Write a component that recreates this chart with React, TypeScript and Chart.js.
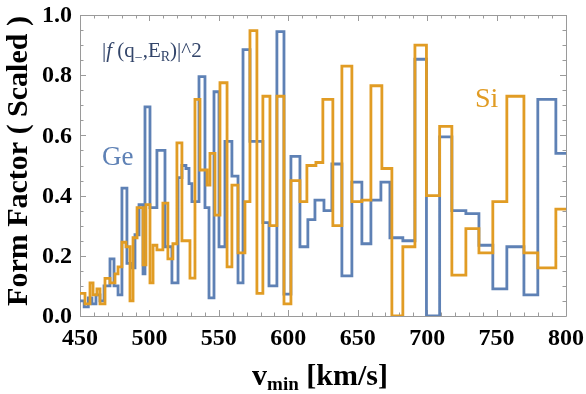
import React, { useEffect, useRef } from "react";
import { Chart, registerables } from "chart.js";

Chart.register(...registerables);

// Bin start velocities (km/s) and scaled form factor values
const geV = [450, 453, 456, 458.6, 461.5, 464.4, 467.3, 471.6, 474.5, 477.4, 480.2, 483.8, 486.7, 489.6, 492.5, 495.4, 496.8, 500.4, 505.4, 511.2, 516.2, 520.6, 523.4, 526.3, 528.5, 530.6, 535.7, 540, 542.9, 546.5, 550.1, 554.4, 559.4, 563.8, 567.4, 572.4, 581.7, 586.1, 591.8, 596.9, 601.9, 608.4, 614.1, 619.2, 625.7, 631.4, 638.6, 645.8, 653, 659.5, 666.7, 673.2, 682.5, 691.2, 699.5, 709, 717.8, 727.9, 737.3, 747.3, 757.4, 769.7, 779.7, 792.7, 800];
const geY = [0.05, 0.03, 0.06, 0.04, 0.07, 0.05, 0.1, 0.19, 0.1, 0.07, 0.425, 0.175, 0.16, 0.27, 0.37, 0.14, 0.695, 0.36, 0.55, 0.23, 0.11, 0.46, 0.5, 0.49, 0.44, 0.38, 0.795, 0.36, 0.06, 0.745, 0.23, 0.58, 0.465, 0.11, 0.885, 0.58, 0.31, 0.1, 0.945, 0.073, 0.53, 0.23, 0.32, 0.385, 0.35, 0.505, 0.133, 0.445, 0.24, 0.385, 0.445, 0.26, 0.25, 0.853, 0.0, 0.595, 0.35, 0.34, 0.235, 0.09, 0.23, 0.07, 0.72, 0.54, 0.54];

const siV = [450, 453.6, 457.2, 459.4, 462.2, 464.4, 468, 471.6, 475.2, 477.4, 480.2, 483.1, 486, 488.2, 491.1, 495.4, 497.5, 500.4, 502.6, 505.4, 509.7, 513.3, 516.9, 519.8, 523.4, 529.2, 532.8, 536.4, 541.5, 543.6, 547.2, 550.8, 555.9, 559.4, 563.8, 568.8, 572.4, 577.4, 581.7, 586.8, 591.8, 596.9, 601.9, 608.4, 613.4, 619.9, 624.9, 632.1, 638.6, 645.8, 653, 659.5, 667.4, 674.6, 682.5, 691.2, 699.5, 709, 717.8, 727.9, 737.3, 747.3, 757.4, 769.7, 779.7, 792.7, 800];
const siY = [0.075, 0.04, 0.11, 0.07, 0.09, 0.04, 0.125, 0.11, 0.14, 0.163, 0.245, 0.23, 0.05, 0.26, 0.36, 0.17, 0.37, 0.11, 0.235, 0.22, 0.375, 0.19, 0.24, 0.575, 0.25, 0.126, 0.72, 0.485, 0.435, 0.54, 0.335, 0.775, 0.163, 0.435, 0.21, 0.38, 0.948, 0.075, 0.73, 0.3, 0.73, 0.04, 0.45, 0.38, 0.5, 0.51, 0.72, 0.3, 0.83, 0.38, 0.385, 0.765, 0.49, 0.0, 0.23, 0.9, 0.4, 0.63, 0.136, 0.29, 0.21, 0.38, 0.73, 0.21, 0.16, 0.355, 0.355];

const xTickValues = [450, 500, 550, 600, 650, 700, 750, 800];
const xTickLabels = ["450", "500", "550", "600", "650", "700", "750", "800"];
const yTickValues = [0, 0.2, 0.4, 0.6, 0.8, 1.0];
const yTickLabels = ["0.0", "0.2", "0.4", "0.6", "0.8", "1.0"];

const GE_COLOR = "#5E81B5";
const SI_COLOR = "#E19C24";
const SERIF = "'Liberation Serif', 'DejaVu Serif', serif";

type Seg = { text: string; font: string; dy?: number };

function drawRich(ctx: CanvasRenderingContext2D, segs: Seg[], x: number, y: number, align: "left" | "center") {
  let total = 0;
  for (const s of segs) {
    ctx.font = s.font;
    total += ctx.measureText(s.text).width;
  }
  let cx = align === "center" ? x - total / 2 : x;
  ctx.textAlign = "left";
  ctx.textBaseline = "alphabetic";
  for (const s of segs) {
    ctx.font = s.font;
    ctx.fillText(s.text, cx, y + (s.dy || 0));
    cx += ctx.measureText(s.text).width;
  }
}

const framePlugin = {
  id: "frameTicks",
  beforeDatasetsDraw(chart: any) {
    const { ctx, chartArea } = chart;
    const { left, right, top, bottom } = chartArea;
    const xs = chart.scales.x;
    const ys = chart.scales.y;
    ctx.save();
    ctx.strokeStyle = "#9a9a9a";
    ctx.lineWidth = 1;
    ctx.beginPath();
    ctx.rect(Math.round(left) + 0.5, Math.round(top) + 0.5, Math.round(right - left), Math.round(bottom - top));
    ctx.stroke();
    ctx.beginPath();
    for (let v = 450; v <= 800; v += 10) {
      const px = Math.round(xs.getPixelForValue(v)) + 0.5;
      const len = v % 50 === 0 ? 6 : 3.5;
      ctx.moveTo(px, bottom);
      ctx.lineTo(px, bottom - len);
      ctx.moveTo(px, top);
      ctx.lineTo(px, top + len);
    }
    for (let i = 0; i <= 20; i++) {
      const v = i * 0.05;
      const py = Math.round(ys.getPixelForValue(v)) + 0.5;
      const len = i % 4 === 0 ? 6 : 3.5;
      ctx.moveTo(left, py);
      ctx.lineTo(left + len, py);
      ctx.moveTo(right, py);
      ctx.lineTo(right - len, py);
    }
    ctx.stroke();

    // tick labels
    ctx.fillStyle = "#000";
    ctx.font = `bold 24px ${SERIF}`;
    ctx.textAlign = "center";
    ctx.textBaseline = "alphabetic";
    xTickValues.forEach((v, i) => {
      ctx.fillText(xTickLabels[i], xs.getPixelForValue(v), bottom + 29);
    });
    ctx.textAlign = "right";
    ctx.textBaseline = "middle";
    yTickValues.forEach((v, i) => {
      ctx.fillText(yTickLabels[i], left - 8, ys.getPixelForValue(v) + 1);
    });
    ctx.restore();
  },
  afterDraw(chart: any) {
    const { ctx } = chart;
    ctx.save();
    // y axis title
    ctx.fillStyle = "#000";
    ctx.translate(27, 161);
    ctx.rotate(-Math.PI / 2);
    ctx.font = `bold 30px ${SERIF}`;
    ctx.textAlign = "center";
    ctx.textBaseline = "alphabetic";
    ctx.fillText("Form Factor ( Scaled )", 0, 0);
    ctx.restore();

    ctx.save();
    ctx.fillStyle = "#000";
    drawRich(
      ctx,
      [
        { text: "v", font: `bold 30px ${SERIF}` },
        { text: "min", font: `bold 19px ${SERIF}`, dy: 5 },
        { text: " [km/s]", font: `bold 30px ${SERIF}` },
      ],
      320,
      385,
      "center"
    );

    ctx.fillStyle = "#33456A";
    drawRich(
      ctx,
      [
        { text: "|", font: `21px ${SERIF}` },
        { text: "f", font: `italic 21px ${SERIF}` },
        { text: " (q", font: `21px ${SERIF}` },
        { text: "\u2212", font: `14px ${SERIF}`, dy: 5 },
        { text: ",E", font: `21px ${SERIF}` },
        { text: "R", font: `14px ${SERIF}`, dy: 4 },
        { text: ")|^2", font: `21px ${SERIF}` },
      ],
      102,
      57,
      "left"
    );

    ctx.fillStyle = GE_COLOR;
    ctx.font = `27px ${SERIF}`;
    ctx.textAlign = "left";
    ctx.fillText("Ge", 102, 165);

    ctx.fillStyle = SI_COLOR;
    ctx.font = `28px ${SERIF}`;
    ctx.fillText("Si", 475, 107);
    ctx.restore();
  },
};

export default function App() {
  const ref = useRef<HTMLCanvasElement | null>(null);

  useEffect(() => {
    if (!ref.current) return;
    const chart = new Chart(ref.current, {
      type: "line",
      data: {
        datasets: [
          {
            label: "Ge",
            data: geV.map((x, i) => ({ x, y: geY[i] })),
            borderColor: GE_COLOR,
            borderWidth: 2.8,
            pointRadius: 0,
            stepped: "before",
            fill: false,
            order: 1,
          },
          {
            label: "Si",
            data: siV.map((x, i) => ({ x, y: siY[i] })),
            borderColor: SI_COLOR,
            borderWidth: 2.8,
            pointRadius: 0,
            stepped: "before",
            fill: false,
            order: 0,
          },
        ],
      },
      options: {
        animation: false,
        responsive: false,
        maintainAspectRatio: false,
        layout: { padding: { left: 0, top: 15, right: 20, bottom: 0 } },
        plugins: { legend: { display: false }, tooltip: { enabled: false } },
        scales: {
          x: {
            type: "linear",
            min: 450,
            max: 800,
            afterFit: (scale: any) => {
              scale.height = 78;
            },
            grid: { display: false, drawTicks: false },
            border: { display: false },
            ticks: { display: false },
          },
          y: {
            type: "linear",
            min: 0,
            max: 1,
            afterFit: (scale: any) => {
              scale.width = 80;
            },
            grid: { display: false, drawTicks: false },
            border: { display: false },
            ticks: { display: false },
          },
        },
      },
      plugins: [framePlugin],
    } as any);
    return () => chart.destroy();
  }, []);

  return (
    <div style={{ position: "fixed", left: 0, top: 0, width: 586, height: 394, background: "#fff" }}>
      <canvas ref={ref} width={586} height={394} style={{ display: "block", width: 586, height: 394 }} />
    </div>
  );
}
